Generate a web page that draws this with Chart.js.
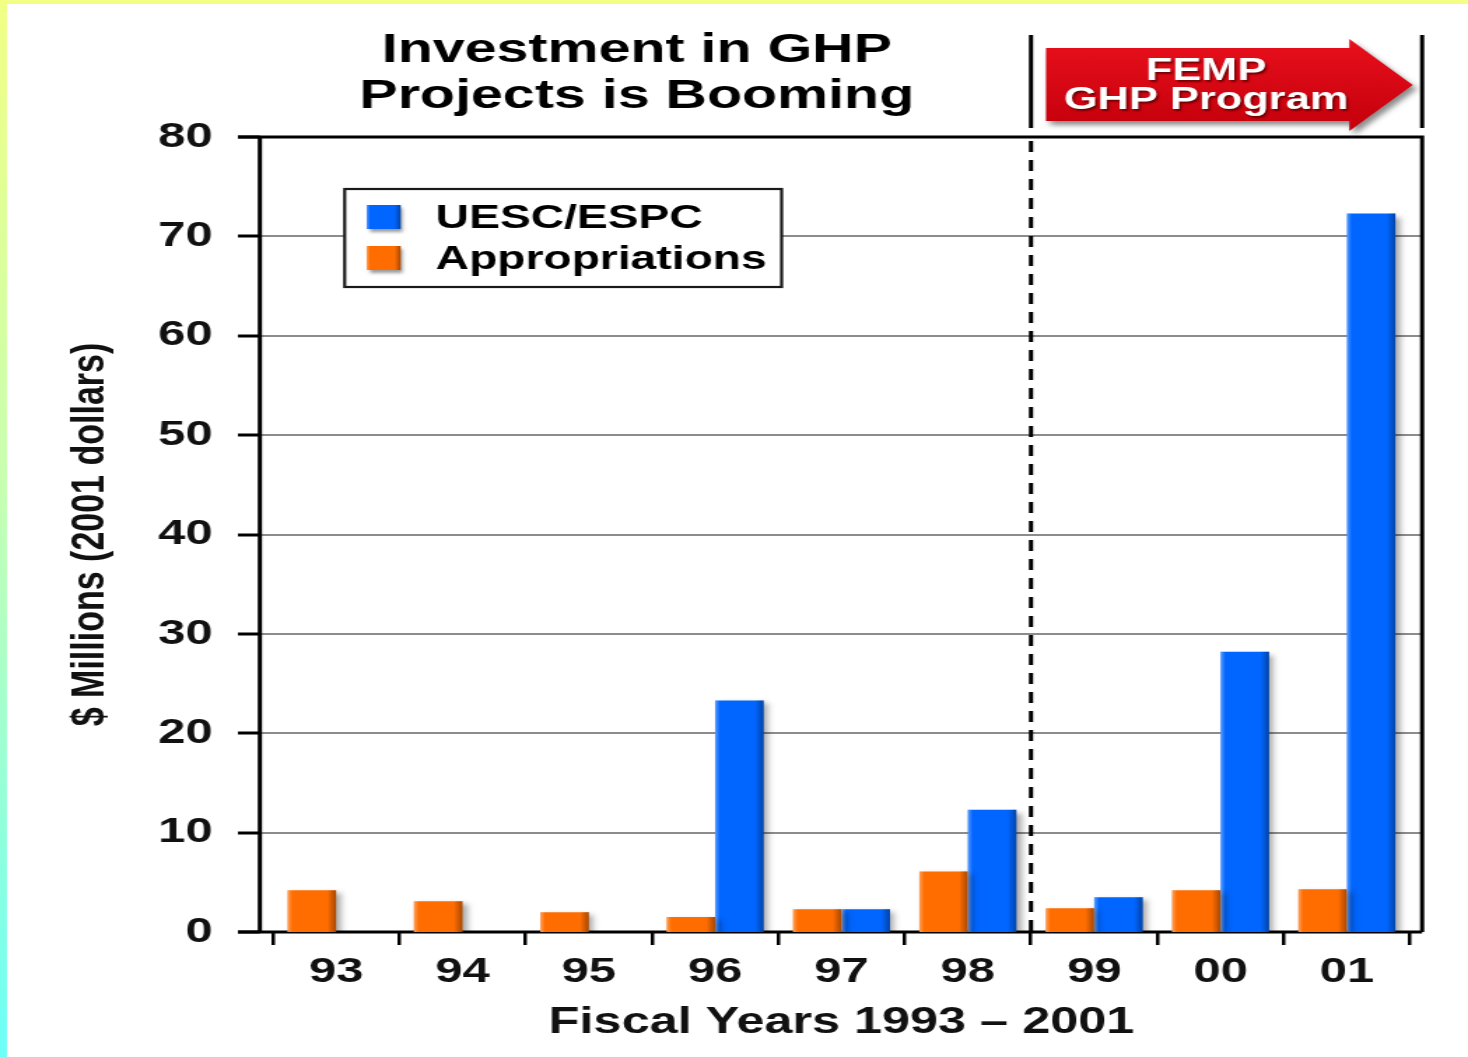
<!DOCTYPE html>
<html>
<head>
<meta charset="utf-8">
<script src="https://cdn.jsdelivr.net/npm/chart.js@4.4.1/dist/chart.umd.min.js"></script>
<style>
  html, body { margin: 0; padding: 0; background: #fff; overflow: hidden; }
  /* the slide is stretched sideways, so draw narrow and widen the whole canvas */
  #wrap { width: 1049px; height: 1057px; transform: scale(1.39943, 1); transform-origin: 0 0; }
  canvas { display: block; }
</style>
</head>
<body>
<div id="wrap"><canvas id="ghpChart" width="1049" height="1057"></canvas></div>
<script>
// Fiscal years and values ($ millions, 2001 dollars)
const years = ['93', '94', '95', '96', '97', '98', '99', '00', '01'];
const appropriations = [4.2, 3.1, 2.0, 1.5, 2.3, 6.1, 2.4, 4.2, 4.3];
const uescEspc = [null, null, null, 23.3, 2.3, 12.3, 3.5, 28.2, 72.3];
const yTicks = [0, 10, 20, 30, 40, 50, 60, 70, 80];

const titleLines = ['Investment in GHP', 'Projects is Booming'];
const arrowLines = ['FEMP', 'GHP Program'];

const ORANGE = '#ff6d00';
const BLUE = '#0066ff';
const FONT = '"Liberation Sans", Arial, sans-serif';

function boldText(ctx, text, x, y, size, align, color) {
    ctx.font = 'bold ' + size + 'px ' + FONT;
    ctx.fillStyle = color;
    ctx.textAlign = align;
    ctx.textBaseline = 'alphabetic';
    ctx.fillText(text, x, y);
}

function shadeBox(ctx, left, top, w, h) {
    const g = ctx.createLinearGradient(left, 0, left + w, 0);
    g.addColorStop(0, 'rgba(255,255,255,0.35)');
    g.addColorStop(0.1, 'rgba(255,255,255,0)');
    g.addColorStop(0.82, 'rgba(0,0,0,0)');
    g.addColorStop(1, 'rgba(0,0,0,0.35)');
    ctx.fillStyle = g;
    ctx.fillRect(left, top, w, h);
}

const slidePlugin = {
    id: 'slide',
    beforeDraw(chart) {
        const ctx = chart.ctx;
        ctx.save();
        ctx.fillStyle = '#fff';
        ctx.fillRect(0, 0, chart.width, chart.height);
        const side = ctx.createLinearGradient(0, 0, 0, chart.height);
        side.addColorStop(0, '#f2ff84');
        side.addColorStop(0.45, '#c8ffb0');
        side.addColorStop(1, '#6cfff8');
        ctx.fillStyle = side;
        ctx.fillRect(0, 0, 5, chart.height);
        ctx.fillStyle = '#f2ff84';
        ctx.fillRect(0, 0, chart.width, 4);
        ctx.restore();
    },
    beforeDatasetsDraw(chart) {
        const ctx = chart.ctx;
        const area = chart.chartArea;
        const y = chart.scales.y;
        const x = chart.scales.x;
        const frameL = area.left - 9.3;
        const frameR = area.right + 8.6;
        const tickL = frameL - 15.7;

        ctx.save();
        // grid lines
        ctx.strokeStyle = '#8c8c8c';
        ctx.lineWidth = 2;
        yTicks.forEach(v => {
            if (v === 0 || v === 80) return;
            const py = Math.round(y.getPixelForValue(v));
            ctx.beginPath();
            ctx.moveTo(frameL, py);
            ctx.lineTo(frameR, py);
            ctx.stroke();
        });

        // frame and y ticks
        ctx.strokeStyle = '#000';
        ctx.lineWidth = 3;
        yTicks.forEach(v => {
            const py = Math.round(y.getPixelForValue(v));
            ctx.beginPath();
            ctx.moveTo(tickL, py);
            ctx.lineTo(frameL, py);
            ctx.stroke();
        });
        const top = y.getPixelForValue(80);
        const bottom = y.getPixelForValue(0);
        ctx.beginPath();
        ctx.moveTo(frameL, top);
        ctx.lineTo(frameL, bottom);
        ctx.moveTo(tickL, top);
        ctx.lineTo(frameR, top);
        ctx.lineTo(frameR, bottom);
        ctx.moveTo(tickL, bottom);
        ctx.lineTo(frameR, bottom);
        ctx.stroke();

        // divider between 98 and 99
        const divX = (x.getPixelForValue(5) + x.getPixelForValue(6)) / 2;
        ctx.setLineDash([11, 8]);
        ctx.beginPath();
        ctx.moveTo(divX, top + 4);
        ctx.lineTo(divX, bottom);
        ctx.stroke();
        ctx.setLineDash([]);

        // program span markers above the plot
        ctx.beginPath();
        ctx.moveTo(divX, 35);
        ctx.lineTo(divX, 128);
        ctx.moveTo(frameR, 35);
        ctx.lineTo(frameR, 128);
        ctx.stroke();
        ctx.restore();

        // arrow
        const aL = divX + 10.7, aHead = frameR - 52, aTip = frameR - 6.7;
        ctx.save();
        ctx.shadowColor = 'rgba(0,0,0,0.45)';
        ctx.shadowOffsetX = 3;
        ctx.shadowOffsetY = 4;
        ctx.shadowBlur = 5;
        const red = ctx.createLinearGradient(0, 40, 0, 130);
        red.addColorStop(0, '#e8101c');
        red.addColorStop(1, '#c4000c');
        ctx.fillStyle = red;
        ctx.beginPath();
        ctx.moveTo(aL, 48);
        ctx.lineTo(aHead, 48);
        ctx.lineTo(aHead, 39);
        ctx.lineTo(aTip, 85);
        ctx.lineTo(aHead, 131);
        ctx.lineTo(aHead, 121);
        ctx.lineTo(aL, 121);
        ctx.closePath();
        ctx.fill();
        ctx.restore();

        ctx.save();
        ctx.shadowColor = 'rgba(90,0,0,0.8)';
        ctx.shadowOffsetX = 1.5;
        ctx.shadowOffsetY = 2;
        ctx.shadowBlur = 2;
        const acx = (aL + aHead) / 2 + 6;
        boldText(ctx, arrowLines[0], acx, 80, 31, 'center', '#fff');
        boldText(ctx, arrowLines[1], acx, 109, 31, 'center', '#fff');
        ctx.restore();

        // title
        ctx.save();
        const tcx = 455;
        boldText(ctx, titleLines[0], tcx, 62, 41, 'center', '#000');
        boldText(ctx, titleLines[1], tcx, 108, 41, 'center', '#000');
        ctx.restore();

        // shadows for the bars
        ctx.save();
        ctx.shadowColor = 'rgba(0,0,0,0.35)';
        ctx.shadowOffsetX = 3.5;
        ctx.shadowOffsetY = 3;
        ctx.shadowBlur = 5;
    },
    afterDatasetsDraw(chart) {
        const ctx = chart.ctx;
        ctx.restore();
        ctx.save();
        chart.data.datasets.forEach((ds, i) => {
            chart.getDatasetMeta(i).data.forEach(bar => {
                if (bar.skip || bar.y == null || isNaN(bar.y)) return;
                shadeBox(ctx, bar.x - bar.width / 2, bar.y, bar.width, bar.base - bar.y);
            });
        });
        ctx.restore();

        // legend inside the plot
        const area = chart.chartArea;
        const bx = area.left + 51.3, by = area.top + 52, bw = 312.2, bh = 98;
        ctx.save();
        ctx.fillStyle = '#fff';
        ctx.fillRect(bx, by, bw, bh);
        ctx.strokeStyle = '#1a1a1a';
        ctx.lineWidth = 2.2;
        ctx.strokeRect(bx, by, bw, bh);
        const order = [1, 0];
        order.forEach((di, row) => {
            const ds = chart.data.datasets[di];
            const sy = by + 16 + row * 41;
            ctx.save();
            ctx.shadowColor = 'rgba(0,0,0,0.4)';
            ctx.shadowOffsetX = 2;
            ctx.shadowOffsetY = 3;
            ctx.shadowBlur = 3;
            ctx.fillStyle = ds.backgroundColor;
            ctx.fillRect(bx + 15.7, sy, 24.3, 24);
            ctx.restore();
            shadeBox(ctx, bx + 15.7, sy, 24.3, 24);
            boldText(ctx, ds.label, bx + 65, sy + 23, 33, 'left', '#000');
        });
        ctx.restore();
    }
};

const ctx = document.getElementById('ghpChart').getContext('2d');
new Chart(ctx, {
    type: 'bar',
    data: {
        labels: years,
        datasets: [{
            label: 'Appropriations',
            data: appropriations,
            backgroundColor: ORANGE,
            borderWidth: 0,
            categoryPercentage: 0.768,
            barPercentage: 1.0
        }, {
            label: 'UESC/ESPC',
            data: uescEspc,
            backgroundColor: BLUE,
            borderWidth: 0,
            categoryPercentage: 0.768,
            barPercentage: 1.0
        }]
    },
    options: {
        responsive: false,
        devicePixelRatio: 1,
        animation: false,
        layout: { padding: { left: 0, right: 41.4, top: 137, bottom: 0 } },
        plugins: {
            legend: { display: false },
            title: { display: false },
            tooltip: { enabled: false }
        },
        scales: {
            x: {
                type: 'category',
                offset: true,
                border: { display: false },
                grid: {
                    offset: true,
                    drawOnChartArea: false,
                    drawTicks: true,
                    tickLength: 13,
                    color: '#000',
                    lineWidth: 2.5
                },
                ticks: {
                    color: '#111',
                    padding: 6,
                    font: { family: FONT, weight: 'bold', size: 35 }
                },
                title: {
                    display: true,
                    text: 'Fiscal Years 1993 – 2001',
                    color: '#111',
                    padding: { top: 0, bottom: 12 },
                    font: { family: FONT, weight: 'bold', size: 36 }
                },
                afterFit(scale) { scale.height = 125; }
            },
            y: {
                min: 0,
                max: 80,
                border: { display: false },
                grid: { display: false, drawTicks: false },
                ticks: {
                    stepSize: 10,
                    color: '#111',
                    padding: 43,
                    font: { family: FONT, weight: 'bold', size: 35 }
                },
                title: {
                    display: true,
                    text: '$ Millions (2001 dollars)',
                    color: '#111',
                    padding: { top: 44, bottom: 0 },
                    font: { family: FONT, weight: 'bold', size: 34 }
                },
                afterFit(scale) { scale.width = 195; }
            }
        }
    },
    plugins: [slidePlugin]
});
</script>
</body>
</html>
